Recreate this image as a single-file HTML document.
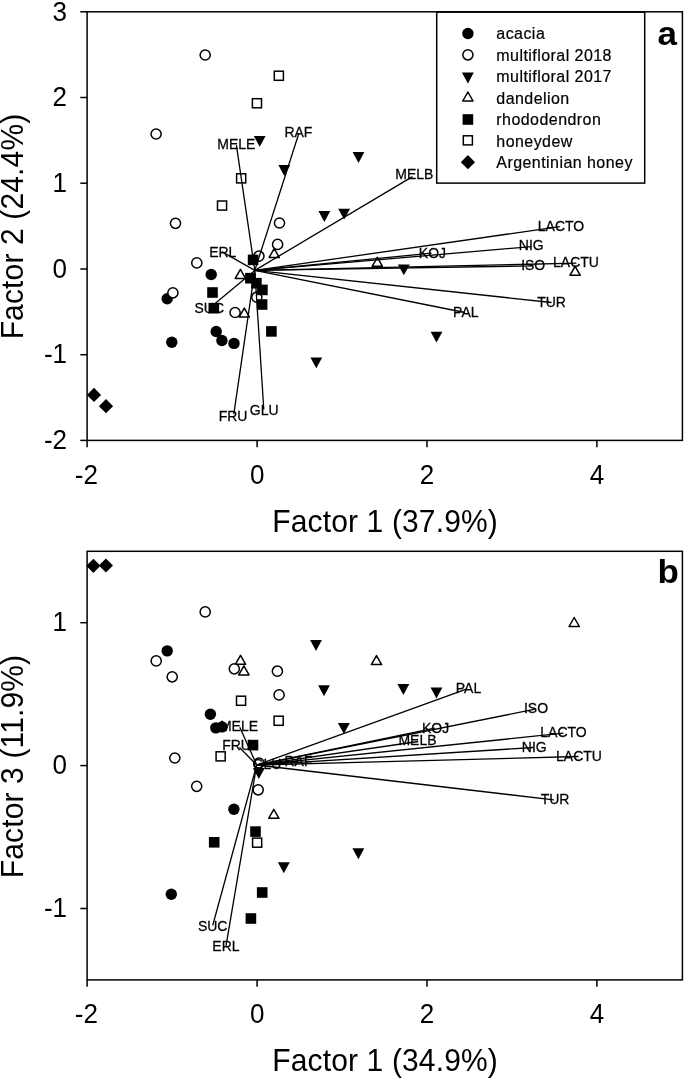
<!DOCTYPE html><html><head><meta charset="utf-8"><title>Figure</title><style>html,body{margin:0;padding:0;background:#fff}svg{display:block}</style></head><body><svg width="685" height="1079" viewBox="0 0 685 1079" font-family="'Liberation Sans', Arial, sans-serif" fill="#000"><rect width="685" height="1079" fill="#fff"/><g fill="#000" stroke="none"><circle cx="211.2" cy="274.5" r="5.7"/><circle cx="167.2" cy="298.8" r="5.7"/><circle cx="171.8" cy="342.2" r="5.7"/><circle cx="216.2" cy="331.5" r="5.7"/><circle cx="221.9" cy="340.5" r="5.7"/><circle cx="234" cy="343.4" r="5.7"/></g><g fill="#fff" stroke="#000" stroke-width="1.5"><circle cx="205.2" cy="55" r="5.08"/><circle cx="156.1" cy="134" r="5.08"/><circle cx="175.5" cy="223.3" r="5.08"/><circle cx="279.5" cy="223" r="5.08"/><circle cx="277.6" cy="244.4" r="5.08"/><circle cx="258.9" cy="256.2" r="5.08"/><circle cx="196.8" cy="262.9" r="5.08"/><circle cx="172.9" cy="292.8" r="5.08"/><circle cx="256.8" cy="297.2" r="5.08"/><circle cx="235.1" cy="312.5" r="5.08"/></g><g fill="#000" stroke="none"><path d="M253.8 135.9H265.6L259.7 146.8Z"/><path d="M278.4 165.1H290.2L284.3 175.9Z"/><path d="M352.6 152.1H364.4L358.5 162.9Z"/><path d="M318.4 211.1H330.3L324.4 221.9Z"/><path d="M338.2 208.8H350.1L344.1 219.6Z"/><path d="M397.9 264.4H409.8L403.8 275.3Z"/><path d="M430.6 331.7H442.4L436.5 342.6Z"/><path d="M310.4 357.4H322.2L316.3 368.2Z"/></g><g fill="#fff" stroke="#000" stroke-width="1.5"><path stroke-linejoin="round" d="M274.20 248.60L279.35 257.60H269.05Z"/><path stroke-linejoin="round" d="M240.40 269.40L245.55 278.40H235.25Z"/><path stroke-linejoin="round" d="M244.30 308.10L249.45 317.10H239.15Z"/><path stroke-linejoin="round" d="M377.30 257.30L382.45 266.30H372.15Z"/><path stroke-linejoin="round" d="M575.10 266.30L580.25 275.30H569.95Z"/></g><g fill="#000" stroke="none"><rect x="247.8" y="254.6" width="10.6" height="10.6"/><rect x="245.1" y="272.9" width="10.6" height="10.6"/><rect x="251.1" y="277.9" width="10.6" height="10.6"/><rect x="257.1" y="284.6" width="10.6" height="10.6"/><rect x="207.2" y="287.2" width="10.6" height="10.6"/><rect x="256.8" y="299.2" width="10.6" height="10.6"/><rect x="208.5" y="302.9" width="10.6" height="10.6"/><rect x="266.1" y="326.1" width="10.6" height="10.6"/></g><g fill="#fff" stroke="#000" stroke-width="1.5"><rect x="274.3" y="71.2" width="9.1" height="9.1"/><rect x="252.4" y="98.7" width="9.1" height="9.1"/><rect x="236.6" y="173.8" width="9.1" height="9.1"/><rect x="217.5" y="201.0" width="9.1" height="9.1"/></g><g fill="#000" stroke="none"><path d="M94.0 387.8L101.1 394.9L94.0 402.0L86.9 394.9Z"/><path d="M106.0 399.1L113.1 406.2L106.0 413.3L98.9 406.2Z"/></g><g stroke="#000" stroke-width="1.3" fill="none"><line x1="254.8" y1="270.4" x2="236.4" y2="145.2"/><line x1="254.8" y1="270.4" x2="298.9" y2="133.3"/><line x1="254.8" y1="270.4" x2="412.5" y2="176.6"/><line x1="254.8" y1="270.4" x2="559.8" y2="226.6"/><line x1="254.8" y1="270.4" x2="531.5" y2="246.6"/><line x1="254.8" y1="270.4" x2="533.2" y2="265.9"/><line x1="254.8" y1="270.4" x2="576.4" y2="263.2"/><line x1="254.8" y1="270.4" x2="551.5" y2="302.5"/><line x1="254.8" y1="270.4" x2="464.9" y2="312.5"/><line x1="254.8" y1="270.4" x2="431.6" y2="253.2"/><line x1="254.8" y1="270.4" x2="221.8" y2="251.6"/><line x1="254.8" y1="270.4" x2="214.8" y2="303.8"/><line x1="254.8" y1="270.4" x2="233.8" y2="414.1"/><line x1="254.8" y1="270.4" x2="263.8" y2="409.5"/></g><g font-size="14" text-anchor="middle" stroke="#000" stroke-width="0.25"><text transform="translate(236.4 149.4) scale(1 1.042)">MELE</text><text transform="translate(298.4 136.6) scale(1 1.042)">RAF</text><text transform="translate(414.4 179.2) scale(1 1.042)">MELB</text><text transform="translate(561.0 230.6) scale(1 1.042)">LACTO</text><text transform="translate(531.2 249.9) scale(1 1.042)">NIG</text><text transform="translate(533.2 269.5) scale(1 1.042)">ISO</text><text transform="translate(576.0 267.2) scale(1 1.042)">LACTU</text><text transform="translate(551.6 306.5) scale(1 1.042)">TUR</text><text transform="translate(465.8 317.2) scale(1 1.042)">PAL</text><text transform="translate(432.4 257.5) scale(1 1.042)">KOJ</text><text transform="translate(222.8 256.6) scale(1 1.042)">ERL</text><text transform="translate(209.3 313.2) scale(1 1.042)">SUC</text><text transform="translate(233.1 420.6) scale(1 1.042)">FRU</text><text transform="translate(264.2 415.4) scale(1 1.042)">GLU</text></g><rect x="436.7" y="12.1" width="208" height="171" fill="#fff" stroke="#000" stroke-width="1.5"/><g stroke="#000" stroke-width="1.5" fill="none"><rect x="87.1" y="11.8" width="595.3" height="428.6"/><line x1="87.1" y1="440.4" x2="87.1" y2="447.2"/><line x1="257.1" y1="440.4" x2="257.1" y2="447.2"/><line x1="427.0" y1="440.4" x2="427.0" y2="447.2"/><line x1="596.9" y1="440.4" x2="596.9" y2="447.2"/><line x1="87.1" y1="11.8" x2="80.3" y2="11.8"/><line x1="87.1" y1="97.5" x2="80.3" y2="97.5"/><line x1="87.1" y1="183.2" x2="80.3" y2="183.2"/><line x1="87.1" y1="269.0" x2="80.3" y2="269.0"/><line x1="87.1" y1="354.7" x2="80.3" y2="354.7"/><line x1="87.1" y1="440.4" x2="80.3" y2="440.4"/></g><g font-size="26" text-anchor="middle"><text transform="translate(86.4 483.8) scale(1 1.042)">-2</text><text transform="translate(257.1 483.8) scale(1 1.042)">0</text><text transform="translate(427.0 483.8) scale(1 1.042)">2</text><text transform="translate(596.9 483.8) scale(1 1.042)">4</text></g><g font-size="26" text-anchor="end"><text transform="translate(67.0 20.5) scale(1 1.042)">3</text><text transform="translate(67.0 106.2) scale(1 1.042)">2</text><text transform="translate(67.0 191.9) scale(1 1.042)">1</text><text transform="translate(67.0 277.7) scale(1 1.042)">0</text><text transform="translate(67.0 363.4) scale(1 1.042)">-1</text><text transform="translate(67.0 449.1) scale(1 1.042)">-2</text></g><g fill="#000"><circle cx="467.9" cy="33.5" r="5.7"/><path d="M461.9 72.6H473.8L467.9 83.5Z"/><rect x="462.6" y="114.2" width="10.6" height="10.6"/><path d="M467.9 155.1L475.0 162.2L467.9 169.3L460.8 162.2Z"/></g><g fill="#fff" stroke="#000" stroke-width="1.5"><circle cx="467.9" cy="54.8" r="5.08"/><path stroke-linejoin="round" d="M467.90 92.00L473.05 101.00H462.75Z"/><rect x="463.3" y="135.8" width="9.1" height="9.1"/></g><g font-size="16" letter-spacing="0.45" stroke="#000" stroke-width="0.2"><text transform="translate(496.3 39.1) scale(1 1.042)">acacia</text><text transform="translate(496.3 60.7) scale(1 1.042)">multifloral 2018</text><text transform="translate(496.3 82.3) scale(1 1.042)">multifloral 2017</text><text transform="translate(496.3 103.5) scale(1 1.042)">dandelion</text><text transform="translate(496.3 125.1) scale(1 1.042)">rhododendron</text><text transform="translate(496.3 146.7) scale(1 1.042)">honeydew</text><text transform="translate(496.3 167.9) scale(1 1.042)">Argentinian honey</text></g><text transform="translate(657.4 44.9) scale(1 0.96)" font-size="35" font-weight="bold">a</text><text transform="translate(385.1 532.3) scale(1 1.042)" font-size="30" text-anchor="middle" letter-spacing="0.15">Factor 1 (37.9%)</text><text transform="translate(23.4 226.5) rotate(-90) scale(1 1.042)" font-size="30" text-anchor="middle" letter-spacing="0.15">Factor 2 (24.4%)</text><g fill="#000" stroke="none"><circle cx="167.2" cy="650.9" r="5.7"/><circle cx="210.4" cy="714.2" r="5.7"/><circle cx="215.8" cy="727.9" r="5.7"/><circle cx="222" cy="726.9" r="5.7"/><circle cx="233.9" cy="809.2" r="5.7"/><circle cx="171.3" cy="894.2" r="5.7"/></g><g fill="#fff" stroke="#000" stroke-width="1.5"><circle cx="205.2" cy="611.9" r="5.08"/><circle cx="156.2" cy="660.9" r="5.08"/><circle cx="172.2" cy="676.8" r="5.08"/><circle cx="234.3" cy="668.8" r="5.08"/><circle cx="277.4" cy="671.2" r="5.08"/><circle cx="279.1" cy="694.9" r="5.08"/><circle cx="174.8" cy="758" r="5.08"/><circle cx="196.7" cy="786.3" r="5.08"/><circle cx="258.9" cy="763" r="5.08"/><circle cx="258.2" cy="789.8" r="5.08"/></g><g fill="#000" stroke="none"><path d="M310.1 640.0H321.9L316.0 651.0Z"/><path d="M318.1 685.2H329.9L324.0 696.2Z"/><path d="M397.4 683.9H409.3L403.4 694.9Z"/><path d="M430.6 687.6H442.4L436.5 698.6Z"/><path d="M337.9 722.9H349.8L343.9 733.9Z"/><path d="M252.9 768.0H264.8L258.8 779.0Z"/><path d="M352.4 848.2H364.3L358.4 859.2Z"/><path d="M277.9 862.2H289.8L283.8 873.2Z"/></g><g fill="#fff" stroke="#000" stroke-width="1.5"><path stroke-linejoin="round" d="M240.50 655.30L245.65 664.30H235.35Z"/><path stroke-linejoin="round" d="M243.90 665.90L249.05 674.90H238.75Z"/><path stroke-linejoin="round" d="M376.50 655.60L381.65 664.60H371.35Z"/><path stroke-linejoin="round" d="M574.20 617.50L579.35 626.50H569.05Z"/><path stroke-linejoin="round" d="M273.80 809.30L278.95 818.30H268.65Z"/></g><g fill="#000" stroke="none"><rect x="247.7" y="739.8" width="10.6" height="10.6"/><rect x="250.2" y="826.3" width="10.6" height="10.6"/><rect x="208.9" y="837.0" width="10.6" height="10.6"/><rect x="256.9" y="887.2" width="10.6" height="10.6"/><rect x="245.6" y="913.2" width="10.6" height="10.6"/></g><g fill="#fff" stroke="#000" stroke-width="1.5"><rect x="236.5" y="696.2" width="9.1" height="9.1"/><rect x="274.1" y="716.2" width="9.1" height="9.1"/><rect x="216.1" y="751.8" width="9.1" height="9.1"/><rect x="252.6" y="838.1" width="9.1" height="9.1"/></g><g fill="#000" stroke="none"><path d="M93.4 558.7L100.5 565.8L93.4 572.9L86.3 565.8Z"/><path d="M105.9 558.4L113.0 565.5L105.9 572.6L98.8 565.5Z"/></g><g stroke="#000" stroke-width="1.3" fill="none"><line x1="256.7" y1="765" x2="239.8" y2="727.2"/><line x1="256.7" y1="765" x2="239.5" y2="747.5"/><line x1="256.7" y1="765" x2="466.4" y2="689.2"/><line x1="256.7" y1="765" x2="434.8" y2="728.2"/><line x1="256.7" y1="765" x2="418.2" y2="741.5"/><line x1="256.7" y1="765" x2="535.2" y2="709.2"/><line x1="256.7" y1="765" x2="563.5" y2="733.2"/><line x1="256.7" y1="765" x2="533.6" y2="747.5"/><line x1="256.7" y1="765" x2="578.5" y2="756.5"/><line x1="256.7" y1="765" x2="553.8" y2="799.9"/><line x1="256.7" y1="765" x2="212.7" y2="925.5"/><line x1="256.7" y1="765" x2="226" y2="945.8"/><line x1="256.7" y1="765" x2="267" y2="764.2"/><line x1="256.7" y1="765" x2="298.5" y2="761"/></g><g font-size="14" text-anchor="middle" stroke="#000" stroke-width="0.25"><text transform="translate(239.0 731.2) scale(1 1.042)">MELE</text><text transform="translate(236.5 749.6) scale(1 1.042)">FRU</text><text transform="translate(468.5 692.6) scale(1 1.042)">PAL</text><text transform="translate(435.6 732.5) scale(1 1.042)">KOJ</text><text transform="translate(417.5 744.8) scale(1 1.042)">MELB</text><text transform="translate(536.0 712.5) scale(1 1.042)">ISO</text><text transform="translate(563.5 737.1) scale(1 1.042)">LACTO</text><text transform="translate(534.2 751.5) scale(1 1.042)">NIG</text><text transform="translate(579.0 760.5) scale(1 1.042)">LACTU</text><text transform="translate(555.1 803.9) scale(1 1.042)">TUR</text><text transform="translate(212.7 930.5) scale(1 1.042)">SUC</text><text transform="translate(225.9 950.8) scale(1 1.042)">ERL</text><text transform="translate(267.0 769.2) scale(1 1.042)">GLU</text><text transform="translate(298.5 766.0) scale(1 1.042)">RAF</text></g><g stroke="#000" stroke-width="1.5" fill="none"><rect x="87.1" y="551.3" width="595.3" height="428.6"/><line x1="87.1" y1="979.9" x2="87.1" y2="986.6999999999999"/><line x1="257.1" y1="979.9" x2="257.1" y2="986.6999999999999"/><line x1="427.0" y1="979.9" x2="427.0" y2="986.6999999999999"/><line x1="596.9" y1="979.9" x2="596.9" y2="986.6999999999999"/><line x1="87.1" y1="622.7" x2="80.3" y2="622.7"/><line x1="87.1" y1="765.6" x2="80.3" y2="765.6"/><line x1="87.1" y1="908.5" x2="80.3" y2="908.5"/></g><g font-size="26" text-anchor="middle"><text transform="translate(86.4 1023.3) scale(1 1.042)">-2</text><text transform="translate(257.1 1023.3) scale(1 1.042)">0</text><text transform="translate(427.0 1023.3) scale(1 1.042)">2</text><text transform="translate(596.9 1023.3) scale(1 1.042)">4</text></g><g font-size="26" text-anchor="end"><text transform="translate(67.0 631.4) scale(1 1.042)">1</text><text transform="translate(67.0 774.3) scale(1 1.042)">0</text><text transform="translate(67.0 917.2) scale(1 1.042)">-1</text></g><text transform="translate(657.4 582.8) scale(1 0.96)" font-size="35" font-weight="bold">b</text><text transform="translate(385.1 1070.8) scale(1 1.042)" font-size="30" text-anchor="middle" letter-spacing="0.15">Factor 1 (34.9%)</text><text transform="translate(23.4 766.5) rotate(-90) scale(1 1.042)" font-size="30" text-anchor="middle" letter-spacing="0.15">Factor 3 (11.9%)</text></svg></body></html>
